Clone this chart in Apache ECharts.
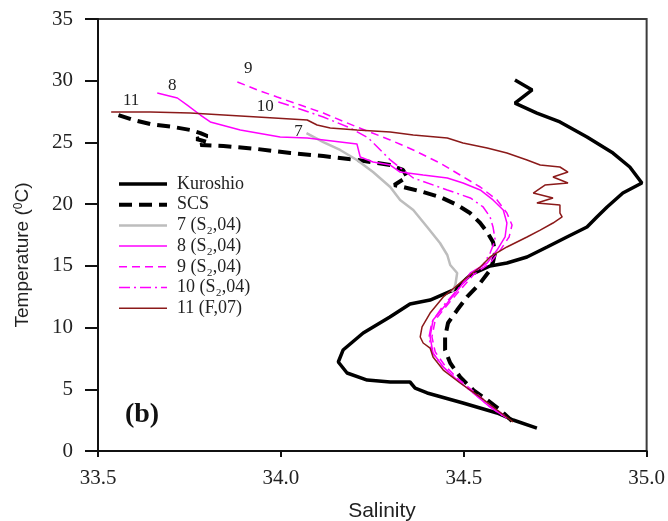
<!DOCTYPE html>
<html>
<head>
<meta charset="utf-8">
<script src="https://cdn.jsdelivr.net/npm/echarts@6/dist/echarts.min.js"></script>
<style>
  html, body { margin: 0; padding: 0; background: #fff; }
  #chart { width: 668px; height: 521px; }
</style>
</head>
<body>
<div id="chart"></div>
<script>
// T-S profiles: each point is [salinity, temperature (°C)]
const kuroshio = [
  [34.640, 30.06], [34.687, 29.25], [34.640, 28.19], [34.700, 27.38], [34.763, 26.66],
  [34.837, 25.44], [34.908, 24.14], [34.954, 23.01], [34.987, 21.71], [34.935, 20.90],
  [34.892, 19.77], [34.864, 18.96], [34.837, 18.15], [34.782, 17.34], [34.728, 16.53],
  [34.673, 15.72], [34.618, 15.23], [34.572, 14.99], [34.518, 14.26], [34.477, 13.12],
  [34.408, 12.23], [34.353, 11.91], [34.298, 10.86], [34.225, 9.56], [34.170, 8.18],
  [34.157, 7.21], [34.181, 6.32], [34.236, 5.75], [34.299, 5.59], [34.353, 5.59],
  [34.367, 5.10], [34.400, 4.70], [34.498, 3.89], [34.591, 3.08], [34.635, 2.51],
  [34.700, 1.86]
];
const scs = [
  [33.556, 27.22], [33.597, 26.82], [33.643, 26.49], [33.706, 26.25], [33.752, 26.01],
  [33.780, 25.76], [33.799, 25.52], [33.769, 25.28], [33.799, 25.03], [33.780, 24.79],
  [33.843, 24.71], [33.935, 24.47], [34.026, 24.14], [34.116, 23.90], [34.208, 23.58],
  [34.299, 23.17], [34.334, 22.77], [34.345, 22.20], [34.310, 21.55], [34.345, 21.31],
  [34.389, 20.98], [34.435, 20.58], [34.482, 19.93], [34.517, 19.28], [34.545, 18.47],
  [34.564, 17.74], [34.580, 16.93], [34.586, 16.12], [34.580, 15.31], [34.572, 14.66],
  [34.545, 13.61], [34.509, 12.48], [34.482, 11.42], [34.457, 10.37], [34.449, 9.24],
  [34.449, 8.18], [34.463, 7.13], [34.490, 6.00], [34.526, 4.94], [34.564, 4.13],
  [34.600, 3.32], [34.632, 2.43]
];
const st7 = [
  [34.070, 25.76], [34.116, 25.03], [34.162, 24.39], [34.208, 23.58], [34.252, 22.60],
  [34.299, 21.39], [34.326, 20.34], [34.362, 19.53], [34.400, 18.15], [34.435, 16.85],
  [34.455, 15.88], [34.463, 15.07], [34.482, 14.42], [34.477, 13.45], [34.468, 12.88]
];
const st8 = [
  [33.662, 29.00], [33.717, 28.60], [33.744, 28.03], [33.780, 27.22], [33.807, 26.66],
  [33.889, 26.01], [33.998, 25.44], [34.072, 25.36], [34.208, 24.87], [34.217, 23.82],
  [34.252, 23.41], [34.299, 23.17], [34.326, 22.60], [34.389, 22.36], [34.455, 22.12],
  [34.498, 21.71], [34.545, 21.15], [34.580, 20.34], [34.608, 19.53], [34.618, 18.47],
  [34.613, 17.34], [34.591, 16.28], [34.564, 15.23], [34.518, 14.42], [34.490, 13.29],
  [34.455, 11.99], [34.416, 10.61], [34.408, 9.24], [34.416, 7.94], [34.444, 6.81],
  [34.482, 5.75], [34.526, 4.70], [34.572, 3.56], [34.618, 2.67]
];
const st9 = [
  [33.881, 29.90], [33.936, 29.25], [33.990, 28.68], [34.053, 28.03], [34.116, 27.38],
  [34.208, 26.25], [34.299, 25.20], [34.362, 24.39], [34.435, 23.33], [34.490, 22.36],
  [34.545, 21.39], [34.591, 20.34], [34.618, 19.28], [34.632, 18.31], [34.624, 17.34],
  [34.600, 16.28], [34.572, 15.23], [34.526, 14.26], [34.490, 13.04], [34.455, 11.83],
  [34.422, 10.61], [34.413, 9.24], [34.422, 8.02], [34.449, 6.89], [34.485, 5.83],
  [34.529, 4.78], [34.575, 3.65], [34.621, 2.67]
];
const st10 = [
  [33.993, 28.28], [34.044, 27.79], [34.116, 27.06], [34.190, 26.17], [34.239, 25.36],
  [34.272, 24.39], [34.299, 23.58], [34.362, 22.12], [34.455, 21.15], [34.518, 20.50],
  [34.553, 19.77], [34.572, 18.96], [34.580, 18.15], [34.586, 17.09], [34.572, 16.04],
  [34.553, 15.07], [34.512, 14.02], [34.477, 12.88], [34.441, 11.67], [34.413, 10.45],
  [34.405, 9.24], [34.413, 8.02], [34.441, 6.89], [34.479, 5.83], [34.523, 4.78],
  [34.569, 3.65], [34.616, 2.67]
];
const st11 = [
  [33.536, 27.47], [33.643, 27.47], [33.752, 27.38], [33.936, 27.06], [34.072, 26.82],
  [34.099, 26.41], [34.135, 26.17], [34.208, 26.01], [34.299, 25.85], [34.362, 25.60],
  [34.455, 25.36], [34.498, 24.95], [34.564, 24.55], [34.618, 24.14], [34.673, 23.58],
  [34.709, 23.17], [34.763, 23.01], [34.785, 22.60], [34.744, 22.20], [34.785, 21.71],
  [34.722, 21.55], [34.690, 20.90], [34.744, 20.50], [34.700, 20.09], [34.763, 19.93],
  [34.763, 19.28], [34.769, 18.96], [34.744, 18.47], [34.709, 17.90], [34.673, 17.34],
  [34.618, 16.53], [34.572, 15.72], [34.545, 14.91], [34.490, 13.61], [34.444, 12.48],
  [34.408, 11.18], [34.386, 10.05], [34.381, 9.24], [34.389, 8.75], [34.408, 8.34],
  [34.416, 7.62], [34.444, 6.56], [34.490, 5.51], [34.545, 4.37], [34.591, 3.32],
  [34.635, 2.35]
];

const seriesNames = ['Kuroshio', 'SCS', '7 (S\u2082,04)', '8 (S\u2082,04)', '9 (S\u2082,04)', '10 (S\u2082,04)', '11 (F,07)'];
const stationTags = ['', '', '7', '8', '9', '10', '11'];
const salinityTicks = [33.5, 34.0, 34.5, 35.0];
const temperatureTicks = [0, 5, 10, 15, 20, 25, 30, 35];

const profiles = [kuroshio, scs, st7, st8, st9, st10, st11];
const lineStyles = [
  { color: '#000000', width: 3.5, type: 'solid' },
  { color: '#000000', width: 4, type: [13, 7] },
  { color: '#bdbdbd', width: 2.5, type: 'solid' },
  { color: '#ff00ff', width: 1.5, type: 'solid' },
  { color: '#ff00ff', width: 1.5, type: [8, 5] },
  { color: '#ff00ff', width: 1.5, type: [11, 4, 2, 4] },
  { color: '#8b1a1a', width: 1.5, type: 'solid' }
];
// where each station number sits relative to the profile's first point (px)
const tagOffsets = [null, null, [-8, -2], [15, -8], [11, -13], [-13, 5], [20, -11]];

const serif = 'Liberation Serif';
const sans = 'Liberation Sans';

const chart = echarts.init(document.getElementById('chart'), null, { renderer: 'canvas' });

const series = profiles.map((data, i) => ({
  name: seriesNames[i],
  type: 'line',
  data: data,
  symbol: 'none',
  showSymbol: false,
  smooth: false,
  animation: false,
  lineStyle: lineStyles[i],
  itemStyle: { color: lineStyles[i].color },
  z: 2 + i
}));

const tickRich = { n: { fontFamily: serif, fontSize: 21, color: '#222' } };

chart.setOption({
  animation: false,
  textStyle: { fontFamily: serif },
  grid: {
    left: 98, right: 21, top: 19, bottom: 70,
    show: true, borderColor: '#3c3c3c', borderWidth: 2, backgroundColor: 'transparent'
  },
  xAxis: {
    type: 'value',
    min: salinityTicks[0], max: salinityTicks[salinityTicks.length - 1], interval: 0.5,
    axisLine: { show: true, onZero: false, lineStyle: { color: '#111', width: 2 } },
    axisTick: { show: true, inside: false, length: 6, lineStyle: { color: '#111', width: 2 } },
    axisLabel: { margin: 17, fontFamily: serif, fontSize: 21, color: '#222', rich: tickRich,
      formatter: v => '{n|' + v.toFixed(1) + '}' },
    splitLine: { show: false }
  },
  yAxis: {
    type: 'value',
    min: temperatureTicks[0], max: temperatureTicks[temperatureTicks.length - 1], interval: 5,
    axisLine: { show: true, onZero: false, lineStyle: { color: '#111', width: 2 } },
    axisTick: { show: true, inside: false, length: 13, lineStyle: { color: '#111', width: 2 } },
    axisLabel: { margin: 25, fontFamily: serif, fontSize: 21, color: '#222', rich: tickRich,
      formatter: v => '{n|' + v + '}' },
    splitLine: { show: false }
  },
  series: series
});

const graphics = [];

// legend: sample line followed by the profile name
const legendX = 119, legendY = 184, legendStep = 20.7;
seriesNames.forEach((name, i) => {
  const y = legendY + i * legendStep;
  const ls = lineStyles[i];
  graphics.push({
    type: 'line', z: 20,
    shape: { x1: legendX, y1: y, x2: legendX + 48, y2: y },
    style: { stroke: ls.color, lineWidth: ls.width, lineDash: ls.type === 'solid' ? null : ls.type }
  });
  graphics.push({
    type: 'text', x: legendX + 58, y: y, z: 20,
    style: { text: name, font: '18px "' + serif + '"', fill: '#222', align: 'left', verticalAlign: 'middle' }
  });
});

// station numbers beside the start of each profile, the panel tag and axis titles
profiles.forEach((data, i) => {
  if (!stationTags[i]) return;
  const p = chart.convertToPixel({ gridIndex: 0 }, data[0]);
  graphics.push({
    type: 'text', x: p[0] + tagOffsets[i][0], y: p[1] + tagOffsets[i][1], z: 20,
    style: { text: stationTags[i], font: '17px "' + serif + '"', fill: '#222', align: 'center', verticalAlign: 'middle' }
  });
});
graphics.push({
  type: 'text', x: 142, y: 415, z: 20,
  style: { text: '(b)', font: 'bold 28px "' + serif + '"', fill: '#111', align: 'center', verticalAlign: 'middle' }
});
graphics.push({
  type: 'text', x: 382, y: 511, z: 20,
  style: { text: 'Salinity', font: '21px "' + sans + '"', fill: '#222', align: 'center', verticalAlign: 'middle' }
});
graphics.push({
  type: 'text', x: 23, y: 255, rotation: Math.PI / 2, z: 20,
  style: {
    text: '{t|Temperature (}{s|0}{t|C)}',
    align: 'center', verticalAlign: 'middle',
    rich: {
      t: { fontFamily: sans, fontSize: 19, fill: '#222' },
      s: { fontFamily: sans, fontSize: 12, fill: '#222', verticalAlign: 'top', padding: [0, 0, 8, 0] }
    }
  }
});
chart.setOption({ graphic: graphics });
</script>
</body>
</html>
